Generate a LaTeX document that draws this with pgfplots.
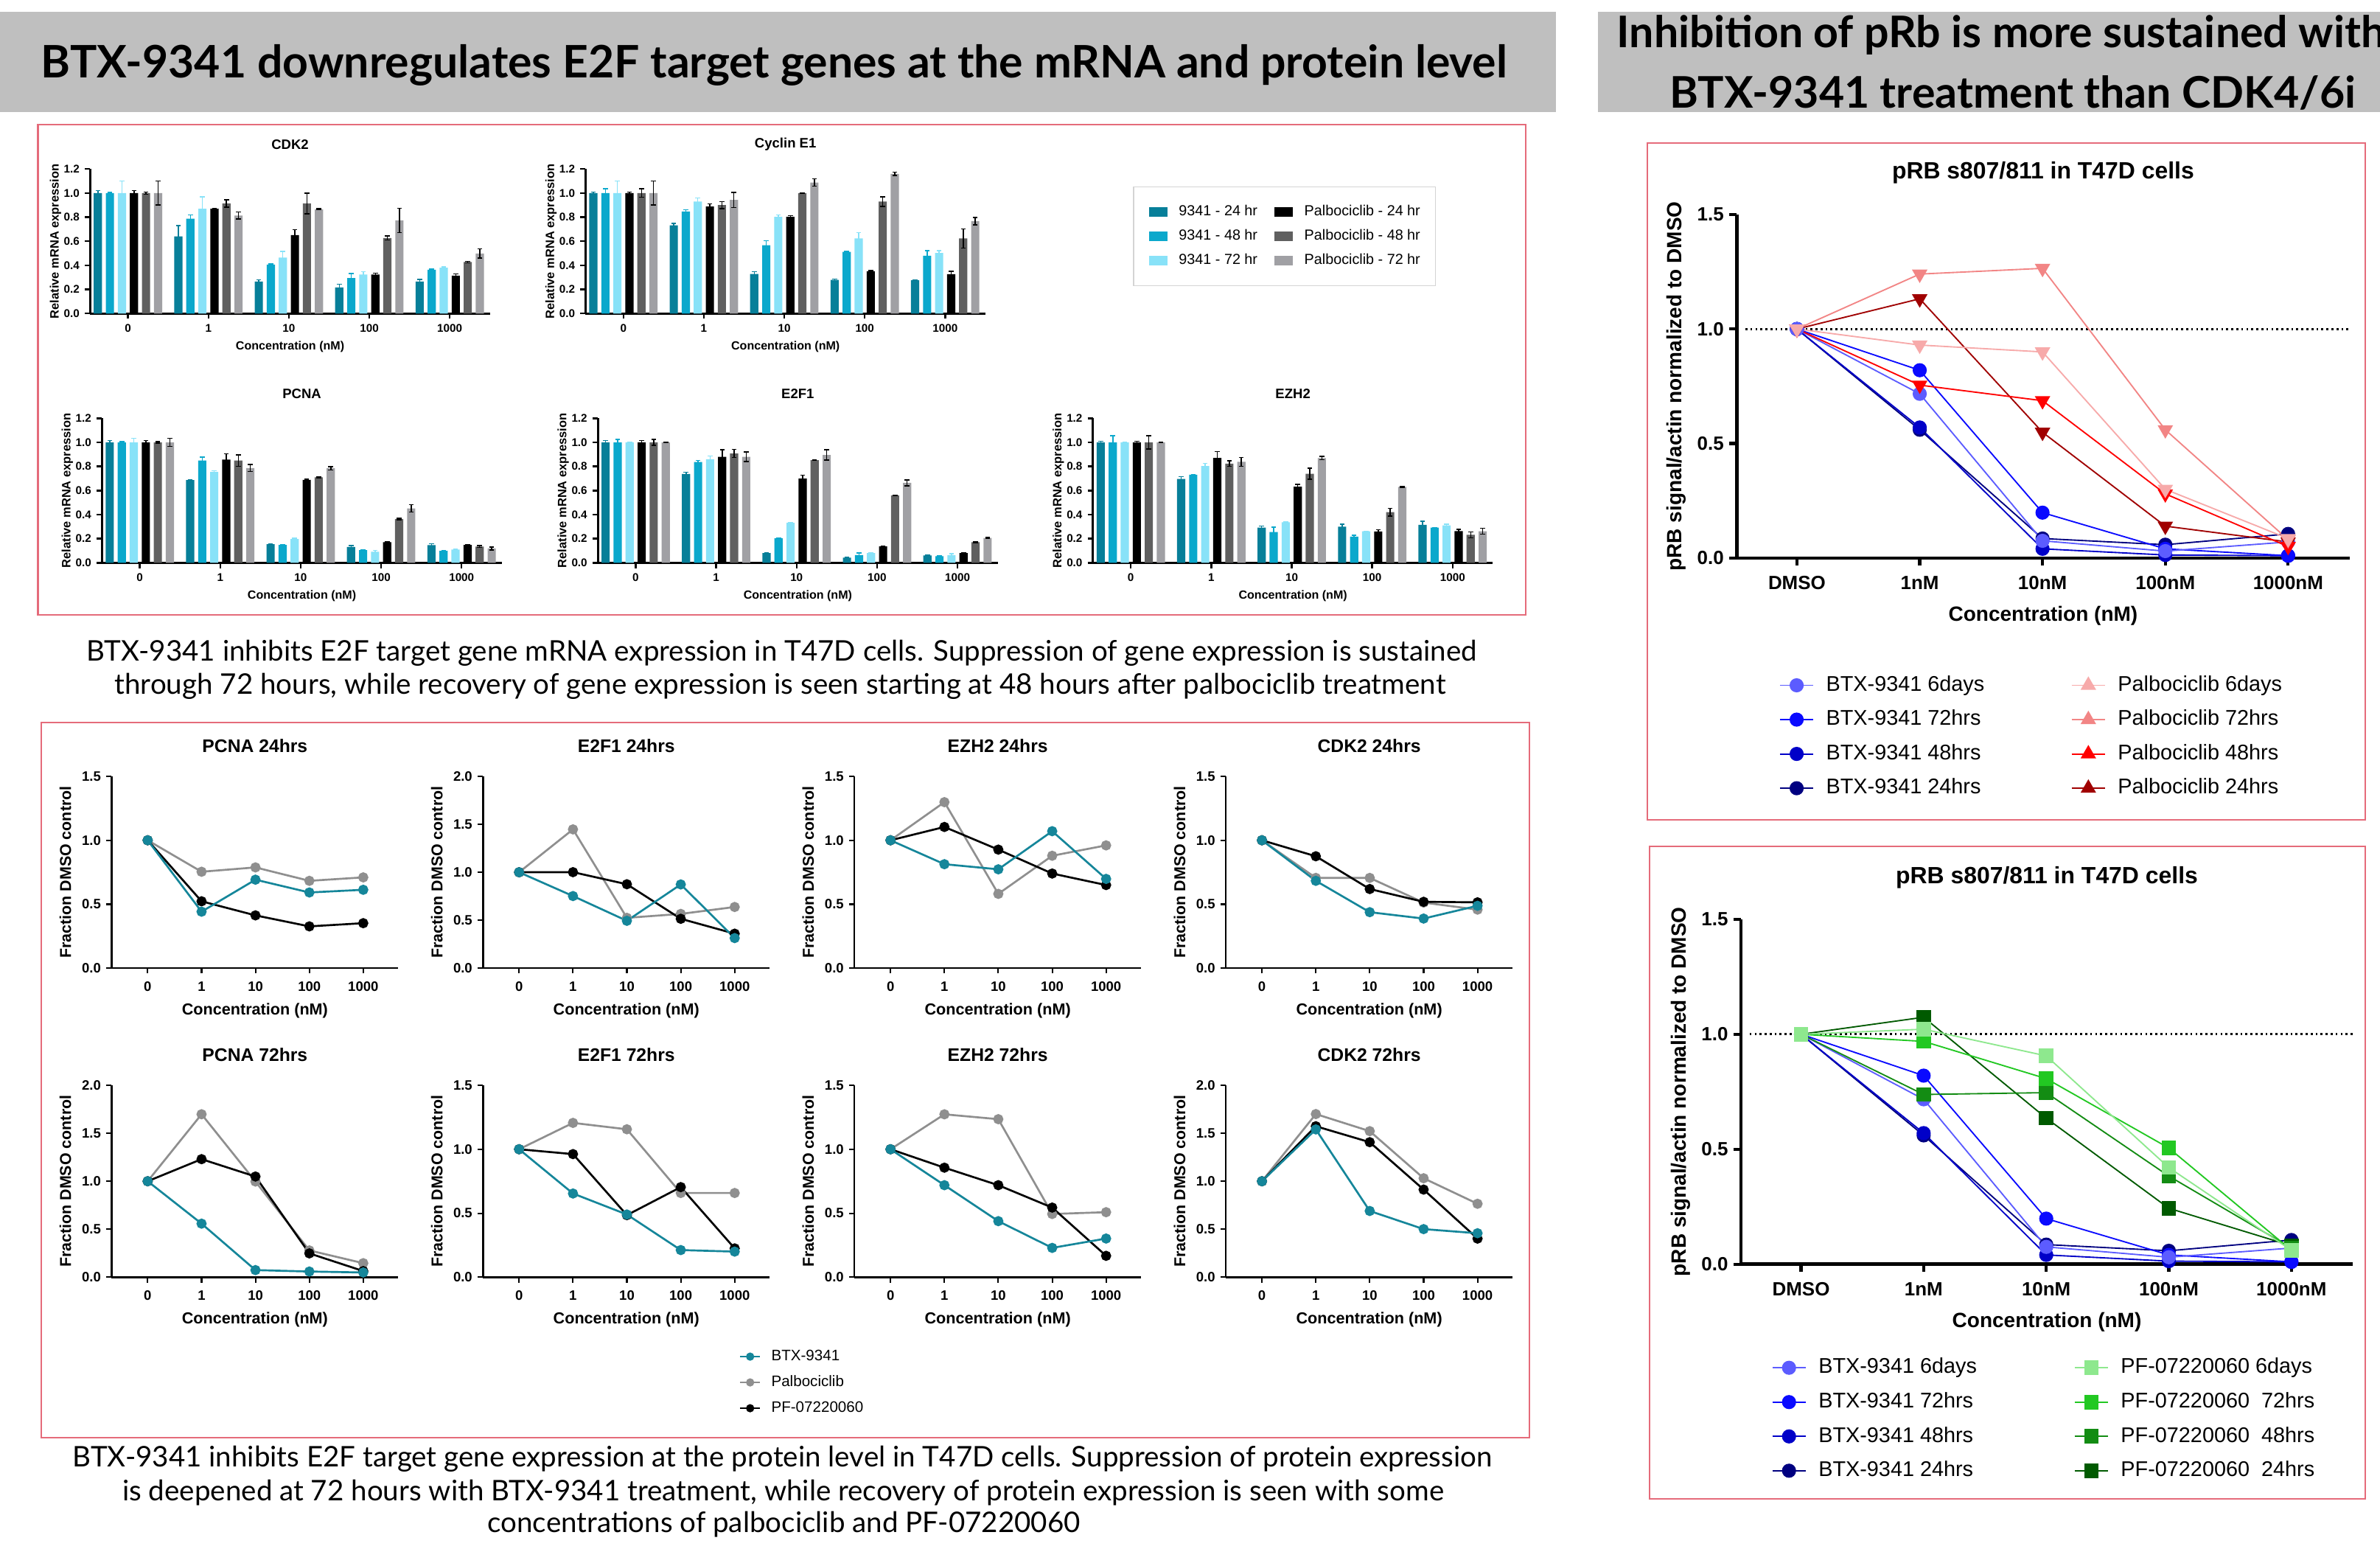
\documentclass[border=0pt]{standalone}
\usepackage{pgfplots}
\pgfplotsset{compat=1.18}
\usepackage{fontspec}
\setmainfont{Liberation Sans}
\newfontfamily\lato{Lato}
\definecolor{bA}{HTML}{077F99}
\definecolor{bB}{HTML}{0BA8CC}
\definecolor{bC}{HTML}{88E2F8}
\definecolor{bD}{HTML}{000000}
\definecolor{bE}{HTML}{606060}
\definecolor{bF}{HTML}{A0A0A4}
\definecolor{tealL}{HTML}{15869A}
\definecolor{grayP}{HTML}{8F8F8F}
\definecolor{bannergray}{HTML}{BFBFBF}
\definecolor{boxred}{HTML}{E56B7A}
\definecolor{legbox}{HTML}{D4D4D4}
\definecolor{btxA}{HTML}{5C5CFF}
\definecolor{btxB}{HTML}{0A0AFF}
\definecolor{btxC}{HTML}{0000C8}
\definecolor{btxD}{HTML}{000080}
\definecolor{palA}{HTML}{F7AAAA}
\definecolor{palB}{HTML}{F28585}
\definecolor{palC}{HTML}{FF0000}
\definecolor{palD}{HTML}{A00000}
\definecolor{pfA}{HTML}{8EE88E}
\definecolor{pfB}{HTML}{22C822}
\definecolor{pfC}{HTML}{138C13}
\definecolor{pfD}{HTML}{005A00}
\newcommand{\fsz}[1]{\fontsize{#1}{#1}\selectfont}
\pgfplotsset{
 every axis title shift=0pt,
 prism/.style={scale only axis, axis lines=left, axis line style={-}, tick align=outside,
   enlargelimits=false, clip=false, ymin=0, xtick={0,1,2,3,4},
   /pgf/number format/assume math mode=true,
   yticklabel style={/pgf/number format/fixed, /pgf/number format/fixed zerofill, /pgf/number format/precision=1},
   title style={anchor=center}, xlabel style={anchor=center}, ylabel style={anchor=center},
   tick style={black}},
 barax/.style={prism, width=263.4pt, height=95.2pt, xmin=-0.47, xmax=4.5, ymax=1.2,
   ytick={0,0.2,0.4,0.6,0.8,1,1.2}, xticklabels={0,1,10,100,1000},
   axis line style={line width=1.4pt}, tick style={line width=1.2pt}, major tick length=3.5pt,
   tick label style={font=\fsz{7.4}\bfseries},
   title style={font=\fsz{9}\bfseries, at={(axis description cs:0.5,1.169)}},
   xlabel style={font=\fsz{7.8}\bfseries, at={(axis description cs:0.5,-0.228)}},
   ylabel style={font=\fsz{8}\bfseries, at={(axis description cs:-0.0866,0.5)}},
   xlabel={Concentration (nM)}, ylabel={Relative mRNA expression}},
 barsty/.style n args={3}{ybar, bar width=0.102, bar shift=0pt, x filter/.expression={x+(#1)},
   fill=#2, draw=none, forget plot,
   error bars/.cd, y dir=both, y explicit,
   error bar style={#3, line width=0.7pt, solid},
   error mark options={#3, rotate=90, mark size=1.6pt, line width=0.7pt}},
 lineax/.style={prism, width=188.9pt, height=126.4pt, xmin=-0.67, xmax=4.65,
   xticklabels={0,1,10,100,1000},
   axis line style={line width=1.2pt}, tick style={line width=1pt}, major tick length=3.5pt,
   tick label style={font=\fsz{9}\bfseries}, xticklabel style={yshift=-2pt},
   title style={font=\fsz{12}\bfseries, at={(axis description cs:0.5,1.157)}},
   xlabel style={font=\fsz{10.5}\bfseries, at={(axis description cs:0.5,-0.221)}},
   ylabel style={font=\fsz{10.4}\bfseries, at={(axis description cs:-0.161,0.5)}},
   xlabel={Concentration (nM)}, ylabel={Fraction DMSO control}},
 y15/.style={ymax=1.5, ytick={0,0.5,1,1.5}},
 y20/.style={ymax=2, ytick={0,0.5,1,1.5,2}},
 lT/.style={tealL, line width=1.3pt, mark=*, mark size=2.7pt, mark options={solid}},
 lG/.style={grayP, line width=1.3pt, mark=*, mark size=2.7pt, mark options={solid}},
 lK/.style={black, line width=1.3pt, mark=*, mark size=2.7pt, mark options={solid}},
 rax/.style={prism, width=403.7pt, height=226.2pt, xmin=-0.49, xmax=4.5, ymax=1.5,
   ytick={0,0.5,1,1.5}, xticklabels={DMSO,1nM,10nM,100nM,1000nM},
   axis line style={line width=2.2pt}, tick style={line width=2pt}, major tick length=5pt,
   tick label style={font=\fsz{12.6}\bfseries}, xticklabel style={yshift=-3.5pt},
   title style={font=\fsz{15.5}\bfseries, at={(axis description cs:0.5,1.121)}},
   xlabel style={font=\fsz{13.6}\bfseries, at={(axis description cs:0.5,-0.168)}},
   ylabel style={font=\fsz{13.6}\bfseries, at={(axis description cs:-0.098,0.5)}},
   title={pRB s807/811 in T47D cells}, xlabel={Concentration (nM)},
   ylabel={pRB signal/actin normalized to DMSO},
   legend columns=2, legend cell align=left,
   legend image code/.code={\draw[mark repeat=2,mark phase=2,##1] plot coordinates {(0pt,0pt) (11pt,0pt) (22pt,0pt)};},
   legend style={draw=none, fill=none, font=\fsz{14}, anchor=north west, inner sep=0pt, row sep=9.1pt,
     nodes={inner sep=0pt, text height=10.5pt, text depth=3pt},
     /tikz/every odd column/.append style={column sep=8pt},
     /tikz/every even column/.append style={column sep=57pt}}},
 bx/.style={#1, line width=0.9pt, mark=*, mark size=4.2pt, mark options={solid, fill=#1, draw=#1}},
 pl/.style={#1, line width=0.9pt, mark=triangle*, mark size=5pt, mark options={solid, rotate=180, fill=#1, draw=#1}},
 plU/.style={#1, line width=0.9pt, mark=triangle*, mark size=5pt, mark options={solid, fill=#1, draw=#1}},
 pf/.style={#1, line width=0.9pt, mark=square*, mark size=4.3pt, mark options={solid, fill=#1, draw=#1}},
}
\newsavebox\tmpbox
\newlength\tmplen
\newcommand\measure[3]{\sbox\tmpbox{#3}\setlength\tmplen{\wd\tmpbox}\pgfmathsetmacro#1{10*#2/\tmplen}}
\begin{document}
\measure\bannerfs{966}{\lato\bfseries\fontsize{10}{12}\selectfont BTX-9341 downregulates E2F target genes at the mRNA and protein level}%
\measure\rbannerfs{452}{\lato\bfseries\fontsize{10}{12}\selectfont BTX-9341 treatment than CDK4/6i}%
\measure\capAfs{916}{\lato\fontsize{10}{12}\selectfont BTX-9341 inhibits E2F target gene mRNA expression in T47D cells. Suppression of gene expression is sustained}%
\measure\capBfs{935}{\lato\fontsize{10}{12}\selectfont BTX-9341 inhibits E2F target gene expression at the protein level in T47D cells. Suppression of protein expression}%
\begin{tikzpicture}
\useasboundingbox (0pt,0pt) rectangle (1568pt,-1020pt);
\begin{scope}[x=1pt,y=-1pt]
\fill[white] (0,0) rectangle (1568,1020);
\fill[bannergray] (0,8) rectangle (1025,74);
\fill[bannergray] (1053,8) rectangle (1568,74);
\node[font=\lato\bfseries\fontsize{\bannerfs}{\bannerfs}\selectfont, inner sep=0pt] at (510,43) {BTX-9341 downregulates E2F target genes at the mRNA and protein level};
\node[font=\lato\bfseries\fontsize{\rbannerfs}{\rbannerfs}\selectfont, inner sep=0pt, anchor=west] at (1065,23) {Inhibition of pRb is more sustained with};
\node[font=\lato\bfseries\fontsize{\rbannerfs}{\rbannerfs}\selectfont, inner sep=0pt] at (1326,61) {BTX-9341 treatment than CDK4/6i};
\draw[boxred, line width=1pt] (25,82) rectangle (1005,405);
\draw[boxred, line width=1pt] (27,476) rectangle (1007.5,947);
\draw[boxred, line width=1pt] (1085.3,94) rectangle (1558.3,540);
\draw[boxred, line width=1pt] (1086.6,557.5) rectangle (1558.3,987.3);
\node[font=\lato\fontsize{\capAfs}{\capAfs}\selectfont, inner sep=0pt] at (515,430) {BTX-9341 inhibits E2F target gene mRNA expression in T47D cells. Suppression of gene expression is sustained};
\node[font=\lato\fontsize{\capAfs}{\capAfs}\selectfont, inner sep=0pt] at (514,452) {through 72 hours, while recovery of gene expression is seen starting at 48 hours after palbociclib treatment};
\node[font=\lato\fontsize{\capBfs}{\capBfs}\selectfont, inner sep=0pt] at (515.5,961) {BTX-9341 inhibits E2F target gene expression at the protein level in T47D cells. Suppression of protein expression};
\node[font=\lato\fontsize{\capBfs}{\capBfs}\selectfont, inner sep=0pt] at (516,983) {is deepened at 72 hours with BTX-9341 treatment, while recovery of protein expression is seen with some};
\node[font=\lato\fontsize{\capBfs}{\capBfs}\selectfont, inner sep=0pt] at (516.5,1004) {concentrations of palbociclib and PF-07220060};
\end{scope}

% ---------------- bar charts ----------------
\begin{axis}[barax, at={(59.4pt,-206.5pt)}, anchor=south west, title={CDK2}]
\addplot[barsty={-0.374}{bA}{bA}] coordinates {(0,1)+-(0,0.02) (1,0.64)+-(0,0.09) (2,0.265)+-(0,0.015) (3,0.216)+-(0,0.027) (4,0.265)+-(0,0.018)};
\addplot[barsty={-0.224}{bB}{bB}] coordinates {(0,1)+-(0,0.005) (1,0.788)+-(0,0.03) (2,0.406)+-(0,0.005) (3,0.294)+-(0,0.037) (4,0.363)+-(0,0.005)};
\addplot[barsty={-0.075}{bC}{bC}] coordinates {(0,1)+-(0,0.1) (1,0.87)+-(0,0.1) (2,0.465)+-(0,0.05) (3,0.324)+-(0,0.022) (4,0.38)+-(0,0.006)};
\addplot[barsty={0.075}{bD}{black}] coordinates {(0,1)+-(0,0.02) (1,0.87)+-(0,0.002) (2,0.651)+-(0,0.047) (3,0.324)+-(0,0.01) (4,0.314)+-(0,0.014)};
\addplot[barsty={0.224}{bE}{black}] coordinates {(0,1)+-(0,0.01) (1,0.914)+-(0,0.03) (2,0.914)+-(0,0.086) (3,0.627)+-(0,0.017) (4,0.427)+-(0,0.005)};
\addplot[barsty={0.374}{bF}{black}] coordinates {(0,1)+-(0,0.1) (1,0.814)+-(0,0.03) (2,0.865)+-(0,0.005) (3,0.773)+-(0,0.1) (4,0.498)+-(0,0.038)};
\end{axis}

\begin{axis}[barax, at={(385.8pt,-206.5pt)}, anchor=south west, title={Cyclin E1},
  legend columns=2, legend cell align=left,
  legend image code/.code={\fill[#1] (0pt,-3.1pt) rectangle (12.4pt,3.1pt);},
  legend style={at={(axis description cs:1.3694,0.880)}, anchor=north west, draw=legbox, line width=0.6pt,
    font=\fsz{9.6}, inner xsep=10pt, inner ysep=12pt, row sep=7pt,
    nodes={inner sep=0pt, text height=7pt, text depth=2pt},
    /tikz/every odd column/.append style={column sep=7.5pt},
    /tikz/every even column/.append style={column sep=11pt}}]
\addplot[barsty={-0.374}{bA}{bA}] coordinates {(0,1)+-(0,0.01) (1,0.733)+-(0,0.014) (2,0.329)+-(0,0.018) (3,0.28)+-(0,0.005) (4,0.276)+-(0,0.004)};
\addplot[barsty={-0.224}{bB}{bB}] coordinates {(0,1)+-(0,0.035) (1,0.847)+-(0,0.016) (2,0.567)+-(0,0.037) (3,0.512)+-(0,0.005) (4,0.48)+-(0,0.043)};
\addplot[barsty={-0.075}{bC}{bC}] coordinates {(0,1)+-(0,0.1) (1,0.93)+-(0,0.03) (2,0.802)+-(0,0.016) (3,0.624)+-(0,0.047) (4,0.502)+-(0,0.02)};
\addplot[barsty={0.075}{bD}{black}] coordinates {(0,1)+-(0,0.01) (1,0.888)+-(0,0.022) (2,0.802)+-(0,0.012) (3,0.351)+-(0,0.005) (4,0.327)+-(0,0.024)};
\addplot[barsty={0.224}{bE}{black}] coordinates {(0,1)+-(0,0.035) (1,0.9)+-(0,0.029) (2,1.0)+-(0,0.003) (3,0.93)+-(0,0.04) (4,0.624)+-(0,0.08)};
\addplot[barsty={0.374}{bF}{black}] coordinates {(0,1)+-(0,0.1) (1,0.943)+-(0,0.063) (2,1.088)+-(0,0.03) (3,1.159)+-(0,0.014) (4,0.767)+-(0,0.03)};
\addlegendimage{fill=bA, draw=none}\addlegendentry{9341 - 24 hr}
\addlegendimage{fill=bD, draw=none}\addlegendentry{Palbociclib - 24 hr}
\addlegendimage{fill=bB, draw=none}\addlegendentry{9341 - 48 hr}
\addlegendimage{fill=bE, draw=none}\addlegendentry{Palbociclib - 48 hr}
\addlegendimage{fill=bC, draw=none}\addlegendentry{9341 - 72 hr}
\addlegendimage{fill=bF, draw=none}\addlegendentry{Palbociclib - 72 hr}
\end{axis}

\begin{axis}[barax, at={(67.2pt,-370.7pt)}, anchor=south west, title={PCNA}]
\addplot[barsty={-0.374}{bA}{bA}] coordinates {(0,1)+-(0,0.015) (1,0.687)+-(0,0.002) (2,0.155)+-(0,0.005) (3,0.131)+-(0,0.012) (4,0.147)+-(0,0.01)};
\addplot[barsty={-0.224}{bB}{bB}] coordinates {(0,1)+-(0,0.005) (1,0.849)+-(0,0.03) (2,0.149)+-(0,0.003) (3,0.106)+-(0,0.003) (4,0.1)+-(0,0.002)};
\addplot[barsty={-0.075}{bC}{bC}] coordinates {(0,1)+-(0,0.035) (1,0.755)+-(0,0.01) (2,0.198)+-(0,0.007) (3,0.092)+-(0,0.012) (4,0.11)+-(0,0.003)};
\addplot[barsty={0.075}{bD}{black}] coordinates {(0,1)+-(0,0.015) (1,0.857)+-(0,0.047) (2,0.689)+-(0,0.006) (3,0.172)+-(0,0.004) (4,0.149)+-(0,0.003)};
\addplot[barsty={0.224}{bE}{black}] coordinates {(0,1)+-(0,0.007) (1,0.849)+-(0,0.047) (2,0.71)+-(0,0.004) (3,0.364)+-(0,0.006) (4,0.135)+-(0,0.008)};
\addplot[barsty={0.374}{bF}{black}] coordinates {(0,1)+-(0,0.035) (1,0.787)+-(0,0.03) (2,0.785)+-(0,0.014) (3,0.452)+-(0,0.03) (4,0.119)+-(0,0.012)};
\end{axis}

\begin{axis}[barax, at={(393.9pt,-370.7pt)}, anchor=south west, title={E2F1}]
\addplot[barsty={-0.374}{bA}{bA}] coordinates {(0,1)+-(0,0.015) (1,0.737)+-(0,0.016) (2,0.081)+-(0,0.002) (3,0.043)+-(0,0.002) (4,0.061)+-(0,0.003)};
\addplot[barsty={-0.224}{bB}{bB}] coordinates {(0,1)+-(0,0.025) (1,0.837)+-(0,0.014) (2,0.204)+-(0,0.002) (3,0.065)+-(0,0.018) (4,0.055)+-(0,0.003)};
\addplot[barsty={-0.075}{bC}{bC}] coordinates {(0,1)+-(0,0.002) (1,0.86)+-(0,0.026) (2,0.332)+-(0,0.003) (3,0.081)+-(0,0.003) (4,0.063)+-(0,0.013)};
\addplot[barsty={0.075}{bD}{black}] coordinates {(0,1)+-(0,0.015) (1,0.88)+-(0,0.06) (2,0.70)+-(0,0.028) (3,0.136)+-(0,0.003) (4,0.081)+-(0,0.004)};
\addplot[barsty={0.224}{bE}{black}] coordinates {(0,1)+-(0,0.025) (1,0.908)+-(0,0.035) (2,0.853)+-(0,0.004) (3,0.56)+-(0,0.002) (4,0.171)+-(0,0.004)};
\addplot[barsty={0.374}{bF}{black}] coordinates {(0,1)+-(0,0.002) (1,0.88)+-(0,0.04) (2,0.896)+-(0,0.043) (3,0.664)+-(0,0.025) (4,0.206)+-(0,0.004)};
\end{axis}

\begin{axis}[barax, at={(720.1pt,-370.7pt)}, anchor=south west, title={EZH2}]
\addplot[barsty={-0.374}{bA}{bA}] coordinates {(0,1)+-(0,0.01) (1,0.697)+-(0,0.02) (2,0.292)+-(0,0.014) (3,0.30)+-(0,0.022) (4,0.315)+-(0,0.03)};
\addplot[barsty={-0.224}{bB}{bB}] coordinates {(0,1)+-(0,0.055) (1,0.732)+-(0,0.003) (2,0.256)+-(0,0.04) (3,0.217)+-(0,0.012) (4,0.292)+-(0,0.002)};
\addplot[barsty={-0.075}{bC}{bC}] coordinates {(0,1)+-(0,0.002) (1,0.804)+-(0,0.022) (2,0.337)+-(0,0.003) (3,0.262)+-(0,0.002) (4,0.311)+-(0,0.01)};
\addplot[barsty={0.075}{bD}{black}] coordinates {(0,1)+-(0,0.008) (1,0.871)+-(0,0.053) (2,0.632)+-(0,0.02) (3,0.26)+-(0,0.014) (4,0.264)+-(0,0.014)};
\addplot[barsty={0.224}{bE}{black}] coordinates {(0,1)+-(0,0.055) (1,0.824)+-(0,0.024) (2,0.74)+-(0,0.045) (3,0.421)+-(0,0.033) (4,0.233)+-(0,0.024)};
\addplot[barsty={0.374}{bF}{black}] coordinates {(0,1)+-(0,0.002) (1,0.838)+-(0,0.037) (2,0.869)+-(0,0.014) (3,0.63)+-(0,0.002) (4,0.262)+-(0,0.025)};
\end{axis}

% ---------------- line charts ----------------
\begin{axis}[lineax, y15, at={(73.5pt,-637.7pt)}, anchor=south west, title={PCNA 24hrs}]
\addplot[lG, forget plot] coordinates {(0,1) (1,0.754) (2,0.788) (3,0.683) (4,0.71)};
\addplot[lK, forget plot] coordinates {(0,1) (1,0.523) (2,0.413) (3,0.327) (4,0.352)};
\addplot[lT, forget plot] coordinates {(0,1) (1,0.442) (2,0.692) (3,0.592) (4,0.613)};
\end{axis}
\begin{axis}[lineax, y20, at={(318.2pt,-637.7pt)}, anchor=south west, title={E2F1 24hrs}]
\addplot[lG, forget plot] coordinates {(0,1) (1,1.447) (2,0.525) (3,0.566) (4,0.638)};
\addplot[lK, forget plot] coordinates {(0,1) (1,1.001) (2,0.875) (3,0.515) (4,0.36)};
\addplot[lT, forget plot] coordinates {(0,1) (1,0.752) (2,0.494) (3,0.873) (4,0.314)};
\end{axis}
\begin{axis}[lineax, y15, at={(562.9pt,-637.7pt)}, anchor=south west, title={EZH2 24hrs}]
\addplot[lG, forget plot] coordinates {(0,1) (1,1.298) (2,0.581) (3,0.879) (4,0.96)};
\addplot[lK, forget plot] coordinates {(0,1) (1,1.104) (2,0.927) (3,0.74) (4,0.65)};
\addplot[lT, forget plot] coordinates {(0,1) (1,0.813) (2,0.773) (3,1.071) (4,0.698)};
\end{axis}
\begin{axis}[lineax, y15, at={(807.6pt,-637.7pt)}, anchor=south west, title={CDK2 24hrs}]
\addplot[lG, forget plot] coordinates {(0,1) (1,0.706) (2,0.706) (3,0.513) (4,0.458)};
\addplot[lK, forget plot] coordinates {(0,1) (1,0.875) (2,0.619) (3,0.519) (4,0.515)};
\addplot[lT, forget plot] coordinates {(0,1) (1,0.683) (2,0.438) (3,0.388) (4,0.488)};
\end{axis}
\begin{axis}[lineax, y20, at={(73.5pt,-841.2pt)}, anchor=south west, title={PCNA 72hrs}]
\addplot[lG, forget plot] coordinates {(0,1) (1,1.698) (2,0.997) (3,0.279) (4,0.146)};
\addplot[lK, forget plot] coordinates {(0,1) (1,1.23) (2,1.049) (3,0.248) (4,0.064)};
\addplot[lT, forget plot] coordinates {(0,1) (1,0.558) (2,0.074) (3,0.059) (4,0.049)};
\end{axis}
\begin{axis}[lineax, y15, at={(318.2pt,-841.2pt)}, anchor=south west, title={E2F1 72hrs},
  legend cell align=left,
  legend image code/.code={\draw[mark repeat=2,mark phase=2,#1] plot coordinates {(0pt,0pt) (6.5pt,0pt) (13pt,0pt)};},
  legend style={at={(axis description cs:0.8936,-0.374)}, anchor=north west, draw=none, fill=none,
    font=\fsz{10}, inner sep=0pt, row sep=7.3pt,
    nodes={inner sep=0pt, text height=7.5pt, text depth=2.2pt},
    /tikz/every odd column/.append style={column sep=7pt}}]
\addplot[lG, forget plot] coordinates {(0,1) (1,1.206) (2,1.156) (3,0.658) (4,0.658)};
\addplot[lK, forget plot] coordinates {(0,1) (1,0.962) (2,0.485) (3,0.704) (4,0.225)};
\addplot[lT, forget plot] coordinates {(0,1) (1,0.654) (2,0.49) (3,0.212) (4,0.2)};
\addlegendimage{tealL, line width=1pt, mark=*, mark size=2.2pt}\addlegendentry{BTX-9341}
\addlegendimage{grayP, line width=1pt, mark=*, mark size=2.2pt}\addlegendentry{Palbociclib}
\addlegendimage{black, line width=1pt, mark=*, mark size=2.2pt}\addlegendentry{PF-07220060}
\end{axis}
\begin{axis}[lineax, y15, at={(562.9pt,-841.2pt)}, anchor=south west, title={EZH2 72hrs}]
\addplot[lG, forget plot] coordinates {(0,1) (1,1.273) (2,1.235) (3,0.494) (4,0.508)};
\addplot[lK, forget plot] coordinates {(0,1) (1,0.856) (2,0.719) (3,0.544) (4,0.167)};
\addplot[lT, forget plot] coordinates {(0,1) (1,0.719) (2,0.438) (3,0.229) (4,0.302)};
\end{axis}
\begin{axis}[lineax, y20, at={(807.6pt,-841.2pt)}, anchor=south west, title={CDK2 72hrs}]
\addplot[lG, forget plot] coordinates {(0,1) (1,1.70) (2,1.522) (3,1.031) (4,0.765)};
\addplot[lK, forget plot] coordinates {(0,1) (1,1.573) (2,1.407) (3,0.913) (4,0.402)};
\addplot[lT, forget plot] coordinates {(0,1) (1,1.54) (2,0.69) (3,0.501) (4,0.458)};
\end{axis}

% ---------------- right charts ----------------
\begin{axis}[rax, at={(1144.2pt,-367.5pt)}, anchor=south west,
  legend style={at={(axis description cs:0.0689,-0.340)}}]
\addplot[black, dotted, line width=1.3pt, forget plot] coordinates {(-0.42,1) (4.5,1)};
\addplot[bx=btxD, forget plot] coordinates {(0,1) (1,0.56) (2,0.085) (3,0.058) (4,0.105)};
\addplot[bx=btxC, forget plot] coordinates {(0,1) (1,0.57) (2,0.04) (3,0.013) (4,0.01)};
\addplot[bx=btxB, forget plot] coordinates {(0,1) (1,0.82) (2,0.198) (3,0.04) (4,0.01)};
\addplot[bx=btxA, forget plot] coordinates {(0,1) (1,0.717) (2,0.075) (3,0.03) (4,0.07)};
\addplot[pl=palD, forget plot] coordinates {(0,1) (1,1.132) (2,0.549) (3,0.139) (4,0.07)};
\addplot[pl=palC, forget plot] coordinates {(0,1) (1,0.755) (2,0.687) (3,0.28) (4,0.05)};
\addplot[pl=palB, forget plot] coordinates {(0,1) (1,1.24) (2,1.265) (3,0.56) (4,0.08)};
\addplot[pl=palA, forget plot] coordinates {(0,1) (1,0.93) (2,0.90) (3,0.30) (4,0.085)};
\addlegendimage{bx=btxA}\addlegendentry{BTX-9341 6days}
\addlegendimage{plU=palA}\addlegendentry{Palbociclib 6days}
\addlegendimage{bx=btxB}\addlegendentry{BTX-9341 72hrs}
\addlegendimage{plU=palB}\addlegendentry{Palbociclib 72hrs}
\addlegendimage{bx=btxC}\addlegendentry{BTX-9341 48hrs}
\addlegendimage{plU=palC}\addlegendentry{Palbociclib 48hrs}
\addlegendimage{bx=btxD}\addlegendentry{BTX-9341 24hrs}
\addlegendimage{plU=palD}\addlegendentry{Palbociclib 24hrs}
\end{axis}

\begin{axis}[rax, at={(1147pt,-832.6pt)}, anchor=south west, height=227.1pt, width=403pt,
  legend style={at={(axis description cs:0.0496,-0.270)}, /tikz/every even column/.append style={column sep=64pt}}]
\addplot[black, dotted, line width=1.3pt, forget plot] coordinates {(-0.42,1) (4.5,1)};
\addplot[bx=btxD, forget plot] coordinates {(0,1) (1,0.56) (2,0.085) (3,0.058) (4,0.105)};
\addplot[bx=btxC, forget plot] coordinates {(0,1) (1,0.57) (2,0.04) (3,0.013) (4,0.01)};
\addplot[bx=btxB, forget plot] coordinates {(0,1) (1,0.82) (2,0.198) (3,0.04) (4,0.01)};
\addplot[bx=btxA, forget plot] coordinates {(0,1) (1,0.717) (2,0.075) (3,0.03) (4,0.07)};
\addplot[pf=pfD, forget plot] coordinates {(0,1) (1,1.074) (2,0.635) (3,0.243) (4,0.08)};
\addplot[pf=pfC, forget plot] coordinates {(0,1) (1,0.738) (2,0.746) (3,0.383) (4,0.07)};
\addplot[pf=pfB, forget plot] coordinates {(0,1) (1,0.969) (2,0.807) (3,0.505) (4,0.06)};
\addplot[pf=pfA, forget plot] coordinates {(0,1) (1,1.022) (2,0.906) (3,0.42) (4,0.06)};
\addlegendimage{bx=btxA}\addlegendentry{BTX-9341 6days}
\addlegendimage{pf=pfA}\addlegendentry{PF-07220060 6days}
\addlegendimage{bx=btxB}\addlegendentry{BTX-9341 72hrs}
\addlegendimage{pf=pfB}\addlegendentry{PF-07220060\ \ 72hrs}
\addlegendimage{bx=btxC}\addlegendentry{BTX-9341 48hrs}
\addlegendimage{pf=pfC}\addlegendentry{PF-07220060\ \ 48hrs}
\addlegendimage{bx=btxD}\addlegendentry{BTX-9341 24hrs}
\addlegendimage{pf=pfD}\addlegendentry{PF-07220060\ \ 24hrs}
\end{axis}
\end{tikzpicture}
\end{document}
